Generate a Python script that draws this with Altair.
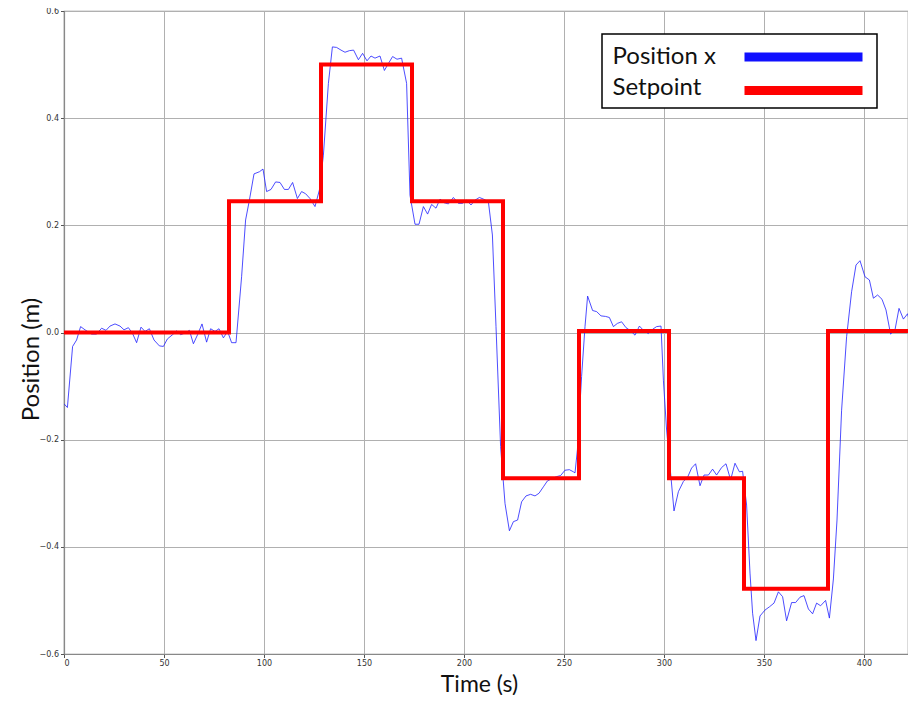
import altair as alt
import pandas as pd

# Position x (measured)
t_pos = [0, 1.7, 4.3, 6.3, 8.3, 10.5, 13.8, 16.3, 18.8, 21, 23, 25.5, 28, 30, 32.2, 34.3, 36.3, 38.5,
         40.5, 42.7, 45, 47.7, 49.7, 51.7, 54.3, 56.3, 58.3, 60.5, 62.7, 64.7, 66.8, 69, 71.3, 73.3,
         75.5, 77.5, 79.7, 81.8, 83.8, 86, 88.8, 90.8, 92.7, 95, 97.7, 99.5, 101.3, 103.5, 105.8, 108,
         110.2, 112.2, 114.3, 116.7, 118.8, 120.8, 123, 125.5, 127.7, 129.7, 132.2, 134.2, 136.3, 138.5,
         140.5, 142.7, 144.8, 147.2, 149.3, 151.5, 153.5, 155.5, 158, 160.2, 162.2, 164.3, 166.5, 168.8,
         171.3, 173, 175.5, 177.5, 179.7, 181.8, 183.8, 186, 188, 190.2, 192.2, 194.7, 197.2, 199.3,
         201.3, 203.5, 205.5, 207.7, 209.7, 212.2, 214.2, 216, 218.3, 220.5, 222.7, 224.7, 226.8, 228.8,
         231, 233.3, 235.5, 237.5, 239.7, 241.7, 243.8, 246.3, 248.3, 250.5, 252.7, 254.7, 255.5, 256.7,
         258.8, 260.5, 261.8, 264.3, 266.3, 268.5, 270.8, 272.7, 274.7, 276.7, 278.8, 281, 283, 285.5,
         287.7, 290, 292.2, 294.3, 296.3, 298.5, 299.7, 301.3, 303, 305, 307.2, 309.7, 311.8, 313.8,
         315.8, 318, 320, 322.2, 324.3, 326.3, 328.8, 331, 333.3, 335.5, 337.7, 339.3, 341.3, 343,
         344.3, 346, 348, 350.5, 352.7, 355, 357.2, 359.3, 361.3, 363.8, 365.8, 368, 370, 372.2, 374.3,
         376.3, 378.3, 380.8, 382.7, 384.7, 386.5, 388.8, 391.3, 393.8, 396, 398, 400.5, 402.7, 404.7,
         406.8, 409, 411, 413.3, 415.5, 417.5, 419.7, 421.8, 424.3, 426]
x_pos = [-0.133, -0.140, -0.026, -0.014, 0.011, 0.005, -0.003, -0.003, 0.008, 0.004, 0.012, 0.016, 0.012,
         0.005, 0.009, -0.002, -0.019, 0.010, 0.002, 0.007, -0.014, -0.025, -0.026, -0.012, -0.004, 0.003,
         -0.004, -0.001, 0.004, -0.021, -0.004, 0.016, -0.018, 0.007, 0.002, 0.007, -0.010, 0.002, -0.019,
         -0.019, 0.104, 0.210, 0.247, 0.296, 0.300, 0.305, 0.263, 0.267, 0.281, 0.280, 0.267, 0.267, 0.280,
         0.250, 0.263, 0.259, 0.250, 0.235, 0.266, 0.331, 0.465, 0.533, 0.532, 0.527, 0.523, 0.526, 0.527,
         0.509, 0.521, 0.507, 0.516, 0.512, 0.516, 0.489, 0.502, 0.515, 0.510, 0.512, 0.465, 0.256, 0.202,
         0.202, 0.235, 0.221, 0.239, 0.232, 0.249, 0.242, 0.240, 0.252, 0.241, 0.241, 0.247, 0.238, 0.247,
         0.252, 0.249, 0.244, 0.182, 0.011, -0.213, -0.319, -0.370, -0.353, -0.350, -0.316, -0.305, -0.302,
         -0.305, -0.300, -0.288, -0.277, -0.273, -0.269, -0.267, -0.257, -0.256, -0.260, -0.262, -0.219,
         -0.082, 0.011, 0.068, 0.041, 0.039, 0.031, 0.030, 0.028, 0.011, 0.017, 0.020, 0.009, 0.004, -0.005,
         0.012, 0.003, -0.002, 0.006, 0.011, 0.012, -0.089, -0.182, -0.250, -0.333, -0.297, -0.278, -0.270,
         -0.253, -0.245, -0.286, -0.266, -0.266, -0.255, -0.266, -0.252, -0.245, -0.275, -0.244, -0.260,
         -0.259, -0.322, -0.449, -0.524, -0.575, -0.529, -0.518, -0.512, -0.505, -0.484, -0.493, -0.538,
         -0.504, -0.504, -0.494, -0.491, -0.516, -0.525, -0.505, -0.510, -0.500, -0.533, -0.460, -0.350,
         -0.145, -0.008, 0.076, 0.126, 0.134, 0.104, 0.098, 0.064, 0.070, 0.062, 0.042, -0.003, 0.005,
         0.045, 0.025, 0.035, -0.005, 0.003]

# Setpoint (step changes)
t_sp = [0, 82.5, 128.5, 174, 219.5, 257.5, 302.5, 340, 382, 426]
v_sp = [0.0, 0.245, 0.5, 0.245, -0.272, 0.003, -0.272, -0.478, 0.003, 0.003]

legend_labels = ["Position x", "Setpoint"]
legend_colors = ["#1010ff", "#ff0000"]

pos_df = pd.DataFrame({"t": t_pos, "v": x_pos})
sp_df = pd.DataFrame({"t": t_sp, "v": v_sp})

FONT = "Lato"
xscale = alt.Scale(domain=[0, 422], nice=False, zero=False)
yscale = alt.Scale(domain=[-0.6, 0.6], nice=False)

xaxis = alt.Axis(title="Time (s)", values=[0, 50, 100, 150, 200, 250, 300, 350, 400],
                 format="d", titleFont=FONT, titleFontSize=23, titleFontWeight="normal",
                 titleColor="#111", titleX=415, titleY=37, titleBaseline="alphabetic",
                 titleAnchor="start", titleAlign="center")
yaxis = alt.Axis(title="Position (m)", values=[-0.6, -0.4, -0.2, 0.0, 0.2, 0.4, 0.6],
                 format=".1f", titleFont=FONT, titleFontSize=24, titleFontWeight="normal",
                 titleColor="#111", titleX=-26, titleY=348, titleBaseline="alphabetic",
                 titleAngle=-90, titleAlign="center")

pos_line = alt.Chart(pos_df).mark_line(color="#2020ff", strokeWidth=1, opacity=0.8, clip=True).encode(
    x=alt.X("t:Q", scale=xscale, axis=xaxis),
    y=alt.Y("v:Q", scale=yscale, axis=yaxis),
)
sp_line = alt.Chart(sp_df).mark_line(color="#ff0000", strokeWidth=4, interpolate="step-after",
                                     strokeJoin="miter", clip=True).encode(
    x=alt.X("t:Q", scale=xscale),
    y=alt.Y("v:Q", scale=yscale),
)

one = alt.Data(values=[{}])
leg_box = alt.Chart(one).mark_rect(fill="white", stroke="black", strokeWidth=1.5).encode(
    x=alt.value(538), x2=alt.value(813), y=alt.value(23), y2=alt.value(97))
leg_t1 = alt.Chart(one).mark_text(text=legend_labels[0], font=FONT, fontSize=24, align="left",
                                  baseline="alphabetic", color="#111").encode(
    x=alt.value(548.5), y=alt.value(53))
leg_t2 = alt.Chart(one).mark_text(text=legend_labels[1], font=FONT, fontSize=24, align="left",
                                  baseline="alphabetic", color="#111").encode(
    x=alt.value(548.5), y=alt.value(84))
leg_l1 = alt.Chart(one).mark_rule(color=legend_colors[0], strokeWidth=9).encode(
    x=alt.value(680.5), x2=alt.value(798.5), y=alt.value(46))
leg_l2 = alt.Chart(one).mark_rule(color=legend_colors[1], strokeWidth=9).encode(
    x=alt.value(680.5), x2=alt.value(798.5), y=alt.value(79.5))

chart = alt.layer(pos_line, sp_line, leg_box, leg_t1, leg_t2, leg_l1, leg_l2).properties(
    width=844, height=643,
    autosize=alt.AutoSizeParams(type="none"),
    padding={"left": 56, "top": 3, "right": 0, "bottom": 41},
    background="white",
).configure_view(stroke="#888888", strokeWidth=1.2).configure_axis(
    labelFont="DejaVu Sans", labelFontSize=8, labelColor="#333",
    grid=True, gridColor="#b0b0b0", gridWidth=1,
    domainColor="#888888", domainWidth=1.2,
    tickColor="#555", tickSize=3.5, labelPadding=2,
)

chart.save("out.html", embed_options={"renderer": "svg", "actions": False})
